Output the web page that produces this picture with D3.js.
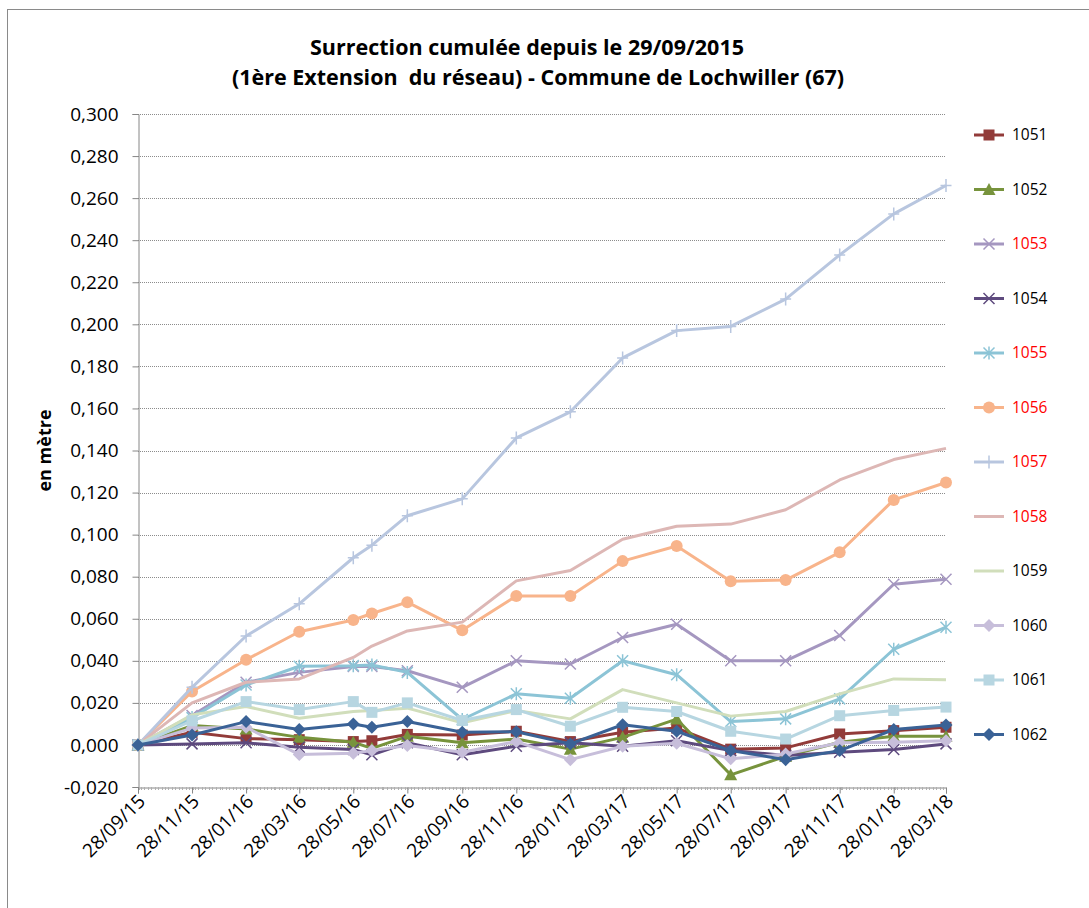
<!DOCTYPE html>
<html>
<head>
<meta charset="utf-8">
<script src="https://cdn.jsdelivr.net/npm/d3@7"></script>
<style>
  body { margin: 0; background: #fff; }
  svg { font-family: "Open Sans", "Liberation Sans", sans-serif; }
  .title { font-weight: bold; font-size: 21.5px; white-space: pre; }
  .tick-label { font-size: 19px; fill: #000; }
  .legend-label { font-size: 15.5px; }
</style>
</head>
<body>
<div id="chart"></div>
<script>
// survey dates (dd/mm/yy)
var dates = ["28/09/15", "28/11/15", "28/01/16", "28/03/16", "28/05/16", "18/06/16", "28/07/16",
  "28/09/16", "28/11/16", "28/01/17", "28/03/17", "28/05/17", "28/07/17", "28/09/17",
  "28/11/17", "28/01/18", "28/03/18"];

var xTickLabels = ["28/09/15", "28/11/15", "28/01/16", "28/03/16", "28/05/16", "28/07/16", "28/09/16",
  "28/11/16", "28/01/17", "28/03/17", "28/05/17", "28/07/17", "28/09/17", "28/11/17",
  "28/01/18", "28/03/18"];

var yTicks = [-0.020, 0.000, 0.020, 0.040, 0.060, 0.080, 0.100, 0.120, 0.140, 0.160,
  0.180, 0.200, 0.220, 0.240, 0.260, 0.280, 0.300];

var seriesNames = ["1051", "1052", "1053", "1054", "1055", "1056", "1057", "1058", "1059", "1060", "1061", "1062"];
var redLabels = ["1053", "1055", "1056", "1057", "1058"];

var v1051 = [0, 0.006, 0.003, 0.0025, 0.0016, 0.002, 0.005, 0.0047, 0.0065, 0.0016, 0.006, 0.008, -0.002, -0.0014, 0.0052, 0.0068, 0.0084];
var v1052 = [0, 0.0092, 0.0076, 0.0036, 0.0013, -0.0016, 0.0041, 0.001, 0.0028, -0.002, 0.0036, 0.0123, -0.0142, -0.0054, 0.0013, 0.0041, 0.0041];
var v1053 = [0, 0.014, 0.0298, 0.0345, 0.0373, 0.0373, 0.0353, 0.0274, 0.040, 0.0385, 0.0511, 0.0574, 0.040, 0.040, 0.052, 0.0764, 0.0788];
var v1054 = [0, 0.0005, 0.001, -0.0011, -0.0022, -0.0047, 0.001, -0.0047, -0.0006, 0.001, -0.0006, 0.002, -0.0027, -0.005, -0.0035, -0.0022, 0.0005];
var v1055 = [0, 0.013, 0.0285, 0.0374, 0.0377, 0.038, 0.0345, 0.0121, 0.0243, 0.0222, 0.040, 0.0334, 0.0111, 0.0124, 0.0219, 0.0455, 0.056];
var v1056 = [0, 0.0254, 0.0405, 0.0538, 0.0594, 0.0625, 0.0679, 0.0545, 0.0708, 0.0708, 0.0874, 0.0946, 0.0778, 0.0784, 0.0916, 0.1165, 0.1248];
var v1057 = [0, 0.0274, 0.0518, 0.0671, 0.089, 0.095, 0.109, 0.117, 0.146, 0.1584, 0.184, 0.197, 0.199, 0.212, 0.233, 0.2525, 0.266];
var v1058 = [0, 0.020, 0.0298, 0.0314, 0.0416, 0.047, 0.0542, 0.0584, 0.078, 0.0829, 0.0978, 0.104, 0.105, 0.1118, 0.126, 0.1357, 0.141];
var v1059 = [0, 0.0143, 0.0183, 0.0127, 0.0159, 0.0164, 0.0175, 0.0105, 0.0164, 0.0124, 0.0263, 0.020, 0.0137, 0.0159, 0.0243, 0.0314, 0.031];
var v1060 = [0, 0.008, 0.0084, -0.0046, -0.004, -0.0027, -0.0003, -0.0035, 0.0016, -0.007, -0.0006, 0.0008, -0.0066, -0.0043, 0.001, 0.0013, 0.002];
var v1061 = [0, 0.0115, 0.0206, 0.0168, 0.0206, 0.0155, 0.020, 0.0116, 0.0168, 0.0089, 0.0179, 0.0159, 0.0065, 0.0028, 0.0139, 0.0164, 0.018];
var v1062 = [0, 0.0047, 0.0111, 0.0073, 0.010, 0.0084, 0.0111, 0.006, 0.0063, 0.0005, 0.0096, 0.0065, -0.0027, -0.007, -0.0027, 0.0073, 0.0095];

var values = [v1051, v1052, v1053, v1054, v1055, v1056, v1057, v1058, v1059, v1060, v1061, v1062];

// look of each series
var colors = ["#923B39", "#77933C", "#A597C0", "#5E4A7E", "#8CC4D6", "#F8B48B", "#B8C6DF", "#DDB7B5",
  "#D1DEBB", "#C7BEDA", "#B7D6E1", "#3A6296"];
var markers = ["square", "triangle", "x", "x", "star", "circle", "plus", "none", "none", "diamond", "square", "diamond"];

var width = 1089, height = 908;
var margin = { left: 138, right: 946, top: 114, bottom: 787 };

var svg = d3.select("#chart").append("svg").attr("width", width).attr("height", height);

// chart border (right and bottom edges fall off the canvas)
svg.append("rect").attr("x", 7.5).attr("y", 9.5).attr("width", 1100).attr("height", 920)
  .attr("fill", "none").attr("stroke", "#8a8a8a").attr("stroke-width", 1);

var parseDate = d3.timeParse("%d/%m/%y");
var fmtY = function(d) { return d3.format(".3f")(d).replace(".", ",").replace("\u2212", "-"); };

var x = d3.scaleTime()
  .domain([parseDate(xTickLabels[0]), parseDate(xTickLabels[xTickLabels.length - 1])])
  .range([margin.left, margin.right]);
var y = d3.scaleLinear().domain([-0.020, 0.300]).range([margin.bottom, margin.top]);

// gridlines
svg.append("g").selectAll("line").data(yTicks.slice(1)).enter().append("line")
  .attr("x1", margin.left).attr("x2", margin.right)
  .attr("y1", function(d) { return Math.round(y(d)) + 0.5; })
  .attr("y2", function(d) { return Math.round(y(d)) + 0.5; })
  .attr("stroke", "#8c8c8c").attr("stroke-width", 1).attr("stroke-dasharray", "1,1");

// y axis
var yAxis = d3.axisLeft(y).tickValues(yTicks).tickFormat(fmtY).tickSize(6).tickPadding(14);
var gy = svg.append("g").attr("transform", "translate(" + (margin.left + 0.5) + ",0)").call(yAxis);
gy.select(".domain").attr("stroke", "#868686");
gy.selectAll(".tick line").attr("stroke", "#868686");
gy.selectAll(".tick text").attr("class", "tick-label");
gy.attr("font-family", null).attr("font-size", null);

// x axis
var xTickDates = xTickLabels.map(parseDate);
var xAxis = d3.axisBottom(x).tickValues(xTickDates).tickFormat(d3.timeFormat("%d/%m/%y")).tickSize(6).tickPadding(4);
var gx = svg.append("g").attr("transform", "translate(0," + (margin.bottom + 0.5) + ")").call(xAxis);
gx.attr("font-family", null).attr("font-size", null);
gx.select(".domain").attr("stroke", "#868686");
gx.selectAll(".tick line").attr("stroke", "#868686");
gx.selectAll(".tick text").attr("class", "tick-label")
  .attr("text-anchor", "end").attr("dy", null).attr("y", 0)
  .attr("transform", "translate(8,15) rotate(-45)");

// minor ticks on the date axis
var minor = d3.timeDay.every(4).range(x.domain()[0], x.domain()[1]);
svg.append("g").selectAll("line").data(minor).enter().append("line")
  .attr("x1", function(d) { return Math.round(x(d)) + 0.5; })
  .attr("x2", function(d) { return Math.round(x(d)) + 0.5; })
  .attr("y1", margin.bottom).attr("y2", margin.bottom + 3)
  .attr("stroke", "#b0b0b0").attr("stroke-width", 1);

// titles
var title = svg.append("text").attr("class", "title").attr("text-anchor", "middle")
  .attr("x", 527).attr("y", 55);
title.append("tspan").attr("x", 527).text("Surrection cumulée depuis le 29/09/2015");
title.append("tspan").attr("x", 538).attr("dy", 30).text("(1ère Extension  du réseau) - Commune de Lochwiller (67)");

svg.append("text").attr("transform", "translate(51," + ((margin.top + margin.bottom) / 2) + ") rotate(-90)")
  .attr("text-anchor", "middle").style("font-weight", "bold").style("font-size", "18px")
  .text("en mètre");

// marker drawing
function drawMarker(g, type, color, size) {
  var s = size / 2;
  if (type === "square") {
    g.append("rect").attr("x", -s).attr("y", -s).attr("width", size).attr("height", size).attr("fill", color);
  } else if (type === "triangle") {
    g.append("path").attr("d", "M0," + (-s - 1) + "L" + (s + 1) + "," + (s) + "L" + (-s - 1) + "," + s + "Z").attr("fill", color);
  } else if (type === "diamond") {
    g.append("path").attr("d", "M0," + (-s - 1) + "L" + (s + 1) + ",0L0," + (s + 1) + "L" + (-s - 1) + ",0Z").attr("fill", color);
  } else if (type === "circle") {
    g.append("circle").attr("r", s + 0.5).attr("fill", color);
  } else if (type === "x") {
    g.append("path").attr("d", "M" + (-s) + "," + (-s) + "L" + s + "," + s + "M" + (-s) + "," + s + "L" + s + "," + (-s))
      .attr("stroke", color).attr("stroke-width", 1.5);
  } else if (type === "star") {
    g.append("path").attr("d", "M" + (-s) + "," + (-s) + "L" + s + "," + s + "M" + (-s) + "," + s + "L" + s + "," + (-s) + "M0," + (-s - 1) + "L0," + (s + 1))
      .attr("stroke", color).attr("stroke-width", 1.5);
  } else if (type === "plus") {
    g.append("path").attr("d", "M0," + (-s - 1) + "L0," + (s + 1) + "M" + (-s) + ",0L" + s + ",0")
      .attr("stroke", color).attr("stroke-width", 1.5);
  }
}

var line = d3.line()
  .x(function(d) { return x(d.date); })
  .y(function(d) { return y(d.value); });

var gSeries = svg.append("g");
seriesNames.forEach(function(name, i) {
  var pts = dates.map(function(dt, j) { return { date: parseDate(dt), value: values[i][j] }; });
  var g = gSeries.append("g").attr("class", "series s" + name);
  g.append("path").datum(pts).attr("d", line)
    .attr("fill", "none").attr("stroke", colors[i]).attr("stroke-width", 3)
    .attr("stroke-linejoin", "round");
  if (markers[i] !== "none") {
    pts.forEach(function(p) {
      var m = g.append("g").attr("transform", "translate(" + x(p.date) + "," + y(p.value) + ")");
      drawMarker(m, markers[i], colors[i], 11);
    });
  }
});

// legend
var legend = svg.append("g").attr("transform", "translate(974,135)");
seriesNames.forEach(function(name, i) {
  var row = legend.append("g").attr("transform", "translate(0," + (i * 54.5) + ")");
  row.append("line").attr("x1", 0).attr("x2", 30).attr("y1", 0).attr("y2", 0)
    .attr("stroke", colors[i]).attr("stroke-width", 3);
  if (markers[i] !== "none") drawMarker(row.append("g").attr("transform", "translate(15,0)"), markers[i], colors[i], 11);
  row.append("text").attr("class", "legend-label").attr("x", 38).attr("dy", "0.35em")
    .attr("fill", redLabels.indexOf(name) >= 0 ? "#ff0000" : "#000").text(name);
});
</script>
</body>
</html>
